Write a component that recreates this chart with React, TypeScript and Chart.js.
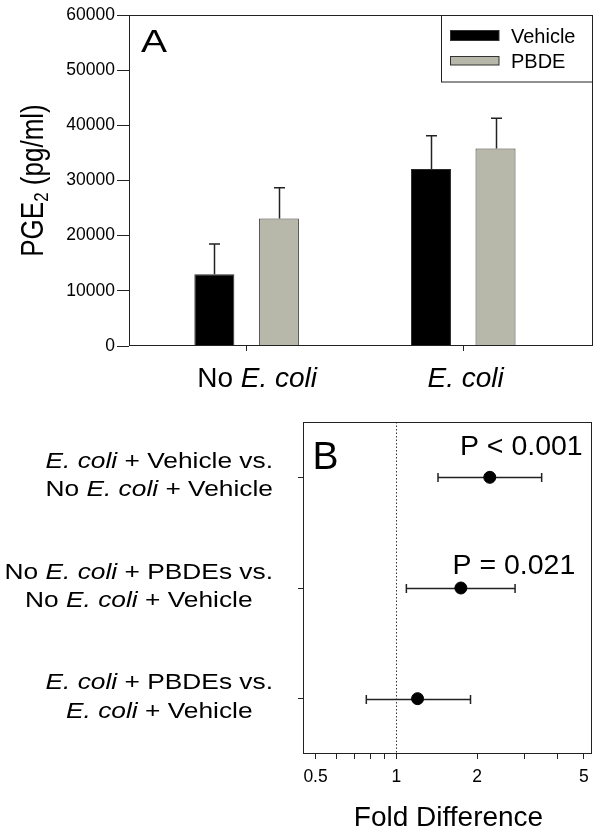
import React, { useEffect, useRef } from 'react';
import { Chart, registerables } from 'chart.js';

Chart.register(...registerables);

const FAM = '"Liberation Sans", Arial, Helvetica, sans-serif';
Chart.defaults.font.family = FAM;

// ---------- Panel A data ----------
const categories = ['No E. coli', 'E. coli'];
const seriesNames = ['Vehicle', 'PBDE'];
const vehicleMean = [13000, 32100];
const vehicleErr = [5500, 6000];
const pbdeMean = [23100, 35800];
const pbdeErr = [5600, 5500];
const yTicksA = [0, 10000, 20000, 30000, 40000, 50000, 60000];

// ---------- Panel B data ----------
const rowLabels = [
  ['E. coli + Vehicle vs.', 'No E. coli + Vehicle'],
  ['No E. coli + PBDEs vs.', 'No E. coli + Vehicle'],
  ['E. coli + PBDEs vs.', 'E. coli + Vehicle'],
];
const rowPos = [1, 2, 3];
const foldEst = [2.23, 1.74, 1.2];
const ciLow = [1.43, 1.09, 0.773];
const ciHigh = [3.48, 2.77, 1.89];
const pLabels = ['P < 0.001', 'P = 0.021', ''];
const xTicksB = [0.5, 0.6, 0.7, 0.8, 0.9, 1, 2, 3, 4, 5];
const xTickLabelsB = [0.5, 1, 2, 5];

const BLACK = '#000000';
const GRAY = '#b7b7aa';
const LINE = '#222222';

type Seg = { t: string; i?: boolean };

function italicize(s: string): Seg[] {
  const parts = s.split('E. coli');
  const out: Seg[] = [];
  parts.forEach((p, idx) => {
    if (p) out.push({ t: p });
    if (idx < parts.length - 1) out.push({ t: 'E. coli', i: true });
  });
  return out;
}

function fnt(size: number, italic?: boolean) {
  return `${italic ? 'italic ' : ''}${size}px ${FAM}`;
}

function segWidth(ctx: CanvasRenderingContext2D, segs: Seg[], size: number) {
  let w = 0;
  for (const s of segs) {
    ctx.font = fnt(size, s.i);
    w += ctx.measureText(s.t).width;
  }
  return w;
}

function drawSegs(
  ctx: CanvasRenderingContext2D,
  segs: Seg[],
  x: number,
  y: number,
  size: number,
  align: 'left' | 'center' | 'right',
  sx = 1
) {
  const w = segWidth(ctx, segs, size) * sx;
  const x0 = align === 'left' ? x : align === 'center' ? x - w / 2 : x - w;
  ctx.save();
  ctx.translate(x0, y);
  ctx.scale(sx, 1);
  ctx.textBaseline = 'alphabetic';
  ctx.textAlign = 'left';
  ctx.fillStyle = '#000';
  let cx = 0;
  for (const s of segs) {
    ctx.font = fnt(size, s.i);
    ctx.fillText(s.t, cx, 0);
    cx += ctx.measureText(s.t).width;
  }
  ctx.restore();
}

function drawFrame(chart: any) {
  const { ctx, chartArea: a } = chart;
  ctx.save();
  ctx.strokeStyle = LINE;
  ctx.lineWidth = 1;
  ctx.strokeRect(Math.round(a.left) + 0.5, Math.round(a.top) + 0.5, Math.round(a.right - a.left) - 1, Math.round(a.bottom - a.top) - 1);
  ctx.restore();
}

const panelAPlugin = {
  id: 'panelA',
  afterDatasetsDraw(chart: any) {
    const ctx: CanvasRenderingContext2D = chart.ctx;
    const y = chart.scales.y;
    const means = [vehicleMean, pbdeMean];
    const errs = [vehicleErr, pbdeErr];
    ctx.save();
    ctx.strokeStyle = LINE;
    ctx.lineWidth = 1.5;
    means.forEach((m, di) => {
      const meta = chart.getDatasetMeta(di);
      meta.data.forEach((bar: any, i: number) => {
        const top = y.getPixelForValue(m[i] + errs[di][i]);
        const x = Math.round(bar.x) + 0.5;
        ctx.beginPath();
        ctx.moveTo(x, bar.y);
        ctx.lineTo(x, top);
        ctx.moveTo(x - 5.5, top);
        ctx.lineTo(x + 5.5, top);
        ctx.stroke();
      });
    });
    ctx.restore();
  },
  afterDraw(chart: any) {
    const ctx: CanvasRenderingContext2D = chart.ctx;
    const a = chart.chartArea;
    const xs = chart.scales.x;
    drawFrame(chart);

    // panel letter
    drawSegs(ctx, [{ t: 'A' }], a.left + 12, a.top + 37, 32, 'left', 1.22);

    // y-axis title (rotated, with subscript)
    ctx.save();
    const yc = (a.top + a.bottom) / 2 + 0;
    const main = 26;
    const sub = 17;
    ctx.font = fnt(main);
    const w1 = ctx.measureText('PGE').width;
    const w3 = ctx.measureText(' (pg/ml)').width;
    ctx.font = fnt(sub);
    const w2 = ctx.measureText('2').width;
    const total = w1 + w2 + w3;
    ctx.translate(43, yc);
    ctx.rotate(-Math.PI / 2);
    ctx.scale(1, 1.2);
    ctx.fillStyle = '#000';
    ctx.textBaseline = 'alphabetic';
    ctx.textAlign = 'left';
    let cx = -total / 2;
    ctx.font = fnt(main);
    ctx.fillText('PGE', cx, 0);
    cx += w1;
    ctx.font = fnt(sub);
    ctx.fillText('2', cx, 4);
    cx += w2;
    ctx.font = fnt(main);
    ctx.fillText(' (pg/ml)', cx, 0);
    ctx.restore();

    // category labels
    const nudge = [10.5, 2.4];
    categories.forEach((c, i) => {
      const px = xs.getPixelForValue(i) + nudge[i];
      drawSegs(ctx, italicize(c), px, a.bottom + 41, 28, 'center');
    });

    // legend box
    ctx.save();
    const lx = 441.5, ly = a.top + 0.5, lw = a.right - 441.5 - 0.5, lh = 66.5;
    ctx.fillStyle = '#fff';
    ctx.fillRect(lx, ly, lw, lh);
    ctx.strokeStyle = LINE;
    ctx.lineWidth = 1;
    ctx.strokeRect(lx, ly, lw, lh);
    const sw = [
      { fill: BLACK, y: 30.5, h: 10 },
      { fill: GRAY, y: 56.5, h: 8.5 },
    ];
    sw.forEach((s, i) => {
      ctx.fillStyle = s.fill;
      ctx.fillRect(450.5, s.y, 48.5, s.h);
      ctx.strokeStyle = '#333';
      ctx.strokeRect(450.5, s.y, 48.5, s.h);
      drawSegs(ctx, [{ t: seriesNames[i] }], 511, s.y + s.h / 2 + 7, 20, 'left');
    });
    ctx.restore();
  },
};

const panelBPlugin = {
  id: 'panelB',
  beforeDatasetsDraw(chart: any) {
    const ctx: CanvasRenderingContext2D = chart.ctx;
    const a = chart.chartArea;
    const xs = chart.scales.x;
    const ys = chart.scales.y;
    // reference line at 1
    ctx.save();
    const x1 = Math.round(xs.getPixelForValue(1)) + 0.5;
    ctx.strokeStyle = '#333';
    ctx.lineWidth = 1;
    ctx.setLineDash([1.5, 2]);
    ctx.beginPath();
    ctx.moveTo(x1, a.top);
    ctx.lineTo(x1, a.bottom);
    ctx.stroke();
    ctx.restore();
    // CIs
    ctx.save();
    ctx.strokeStyle = LINE;
    ctx.lineWidth = 1.5;
    rowPos.forEach((r, i) => {
      const py = Math.round(ys.getPixelForValue(r)) + 0.5;
      const xl = xs.getPixelForValue(ciLow[i]);
      const xh = xs.getPixelForValue(ciHigh[i]);
      ctx.beginPath();
      ctx.moveTo(xl, py);
      ctx.lineTo(xh, py);
      ctx.moveTo(xl, py - 4.5);
      ctx.lineTo(xl, py + 4.5);
      ctx.moveTo(xh, py - 4.5);
      ctx.lineTo(xh, py + 4.5);
      ctx.stroke();
    });
    ctx.restore();
  },
  afterDraw(chart: any) {
    const ctx: CanvasRenderingContext2D = chart.ctx;
    const a = chart.chartArea;
    const ys = chart.scales.y;
    drawFrame(chart);
    drawSegs(ctx, [{ t: 'B' }], a.left + 9.5, a.top + 47, 39, 'left');

    // p-value labels
    const pRight = [a.right - 9.3, a.right - 16.7];
    const pDy = [-22, -14];
    pLabels.forEach((p, i) => {
      if (!p) return;
      drawSegs(ctx, [{ t: p }], pRight[i], ys.getPixelForValue(rowPos[i]) + pDy[i], 28.5, 'right');
    });

    // row labels
    const sx = 1.17;
    const size = 22.5;
    rowLabels.forEach((lines, i) => {
      const py = ys.getPixelForValue(rowPos[i]);
      const segs = lines.map(italicize);
      const widths = segs.map((s) => segWidth(ctx, s, size) * sx);
      const W = Math.max(...widths);
      const c = a.left - 30 - W / 2;
      drawSegs(ctx, segs[0], c, py - 9.5, size, 'center', sx);
      drawSegs(ctx, segs[1], c, py + 19, size, 'center', sx);
    });

    // x title
    drawSegs(ctx, [{ t: 'Fold Difference' }], 448.5, a.bottom + 72, 28, 'center');
  },
};

export default function App() {
  const refA = useRef<HTMLCanvasElement>(null);
  const refB = useRef<HTMLCanvasElement>(null);

  useEffect(() => {
    const chartA = new Chart(refA.current as HTMLCanvasElement, {
      type: 'bar',
      data: {
        datasets: [
          {
            label: seriesNames[0],
            data: vehicleMean.map((v, i) => ({ x: i, y: v })),
            backgroundColor: BLACK,
            borderColor: '#2a2a2a',
            borderWidth: 1,
            barPercentage: 0.62,
            categoryPercentage: 0.596,
          },
          {
            label: seriesNames[1],
            data: pbdeMean.map((v, i) => ({ x: i, y: v })),
            backgroundColor: GRAY,
            borderColor: '#3a3a3a',
            borderWidth: 1,
            barPercentage: 0.62,
            categoryPercentage: 0.596,
          },
        ],
      } as any,
      options: {
        responsive: false,
        animation: false,
        layout: { padding: { top: 15, right: 8, left: 0, bottom: 0 } },
        plugins: { legend: { display: false }, tooltip: { enabled: false } },
        scales: {
          x: {
            type: 'linear',
            min: -0.543,
            max: 1.599,
            offset: false,
            afterBuildTicks: (s: any) => {
              s.ticks = categories.map((_, i) => ({ value: i }));
            },
            afterFit: (s: any) => {
              s.height = 49;
            },
            ticks: { display: false },
            grid: { offset: false, drawOnChartArea: false, tickLength: 5, color: LINE },
            border: { display: false },
          },
          y: {
            type: 'linear',
            min: 0,
            max: 60000,
            afterBuildTicks: (s: any) => {
              s.ticks = yTicksA.map((v) => ({ value: v }));
            },
            afterFit: (s: any) => {
              s.width = 129;
            },
            ticks: {
              callback: (v: any) => String(v),
              color: '#000',
              font: { size: 17.5, family: FAM },
              padding: 2,
            },
            grid: { drawOnChartArea: false, tickLength: 12, color: LINE },
            border: { display: false },
          },
        },
      } as any,
      plugins: [panelAPlugin],
    });

    const chartB = new Chart(refB.current as HTMLCanvasElement, {
      type: 'scatter',
      data: {
        datasets: [
          {
            label: 'Fold difference',
            data: foldEst.map((v, i) => ({ x: v, y: rowPos[i] })),
            backgroundColor: BLACK,
            borderColor: BLACK,
            pointRadius: 6,
            pointBorderWidth: 1,
          },
        ],
      },
      options: {
        responsive: false,
        animation: false,
        layout: { padding: { top: 27, right: 9, left: 0, bottom: 0 } },
        plugins: { legend: { display: false }, tooltip: { enabled: false } },
        scales: {
          x: {
            type: 'logarithmic',
            min: 0.449,
            max: 5.36,
            afterBuildTicks: (s: any) => {
              s.ticks = xTicksB.map((v) => ({ value: v }));
            },
            afterFit: (s: any) => {
              s.height = 80;
            },
            ticks: {
              autoSkip: false,
              maxRotation: 0,
              callback: (v: any) => (xTickLabelsB.includes(Number(v)) ? String(v) : ''),
              color: '#000',
              font: { size: 17.5, family: FAM },
              padding: 8,
            },
            grid: { drawOnChartArea: false, tickLength: 5, color: LINE },
            border: { display: false },
          },
          y: {
            type: 'linear',
            reverse: true,
            min: 0.5,
            max: 3.5,
            afterBuildTicks: (s: any) => {
              s.ticks = rowPos.map((v) => ({ value: v }));
            },
            afterFit: (s: any) => {
              s.width = 303;
            },
            ticks: { callback: () => '', padding: 0 },
            grid: { drawOnChartArea: false, tickLength: 5, color: LINE },
            border: { display: false },
          },
        },
      } as any,
      plugins: [panelBPlugin],
    });

    return () => {
      chartA.destroy();
      chartB.destroy();
    };
  }, []);

  return (
    <div style={{ position: 'absolute', left: 0, top: 0, width: 601, height: 834, background: '#fff' }}>
      <canvas
        ref={refA}
        width={601}
        height={395}
        style={{ position: 'absolute', left: 0, top: 0, width: 601, height: 395, display: 'block' }}
      />
      <canvas
        ref={refB}
        width={601}
        height={439}
        style={{ position: 'absolute', left: 0, top: 395, width: 601, height: 439, display: 'block' }}
      />
    </div>
  );
}
